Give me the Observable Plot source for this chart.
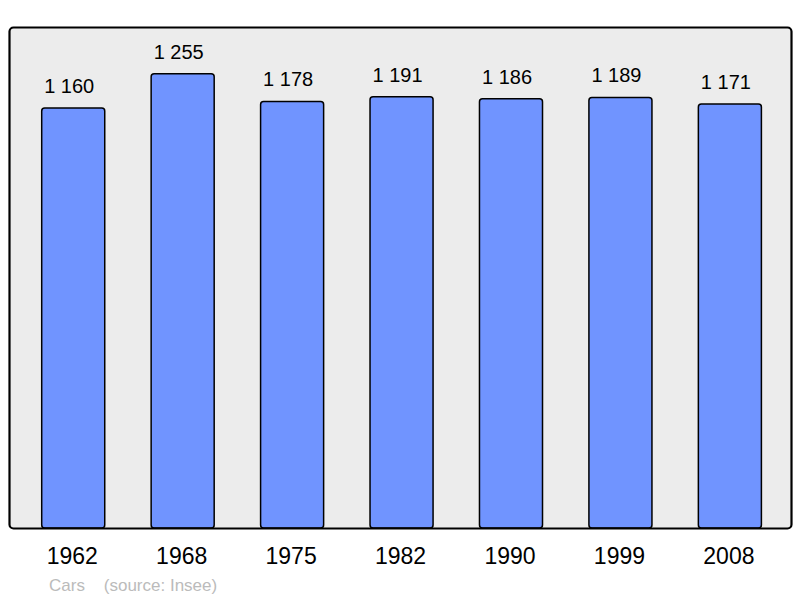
<!DOCTYPE html>
<html>
<head>
<meta charset="utf-8">
<script src="https://cdn.jsdelivr.net/npm/d3@7"></script>
<script src="https://cdn.jsdelivr.net/npm/@observablehq/plot@0.6"></script>
<style>
  html, body { margin: 0; padding: 0; background: #ffffff; }
  #chart { position: relative; width: 800px; height: 598px; }
  svg { font-family: "Liberation Sans", Arial, sans-serif; }
</style>
</head>
<body>
<div id="chart"></div>
<script>
const years = ["1962", "1968", "1975", "1982", "1990", "1999", "2008"];
const population = [1160, 1255, 1178, 1191, 1186, 1189, 1171];
const valueLabels = ["1 160", "1 255", "1 178", "1 191", "1 186", "1 189", "1 171"];
const captionText = "Cars    (source: Insee)";

const data = years.map((y, i) => ({year: y, pop: population[i], label: valueLabels[i]}));

const plot = Plot.plot({
  width: 800,
  height: 598,
  marginTop: 27,
  marginLeft: 9,
  marginRight: 9,
  marginBottom: 70,
  style: {fontFamily: "'Liberation Sans', Arial, sans-serif", background: "#ffffff"},
  x: {domain: years, range: [41.7, 761.4], paddingInner: 0.424, paddingOuter: 0, round: false, label: null, axis: null},
  y: {domain: [0, 1384], axis: null},
  marks: [
    Plot.frame({fill: "#ececec", stroke: "none", rx: 4}),
    Plot.barY(data, {x: "year", y: "pop", fill: "#7094ff", stroke: "#000000", strokeWidth: 1.5, rx: 3}),
    Plot.frame({fill: "none", stroke: "#000000", strokeWidth: 2.2, rx: 4}),
    Plot.text(data, {x: "year", y: "pop", text: "label", dy: -22, dx: -4.5, fontSize: 20, fill: "#000000", lineAnchor: "middle"}),
    Plot.axisX({anchor: "bottom", tickSize: 0, tickPadding: 19, dx: -1.5, fontSize: 23, label: null, color: "#000000"}),
    Plot.text([captionText], {frameAnchor: "bottom-left", dx: 39.5, dy: 57, fontSize: 17, fill: "#bbbbbb", textAnchor: "start", lineAnchor: "middle"})
  ]
});
document.getElementById("chart").appendChild(plot);
</script>
</body>
</html>
